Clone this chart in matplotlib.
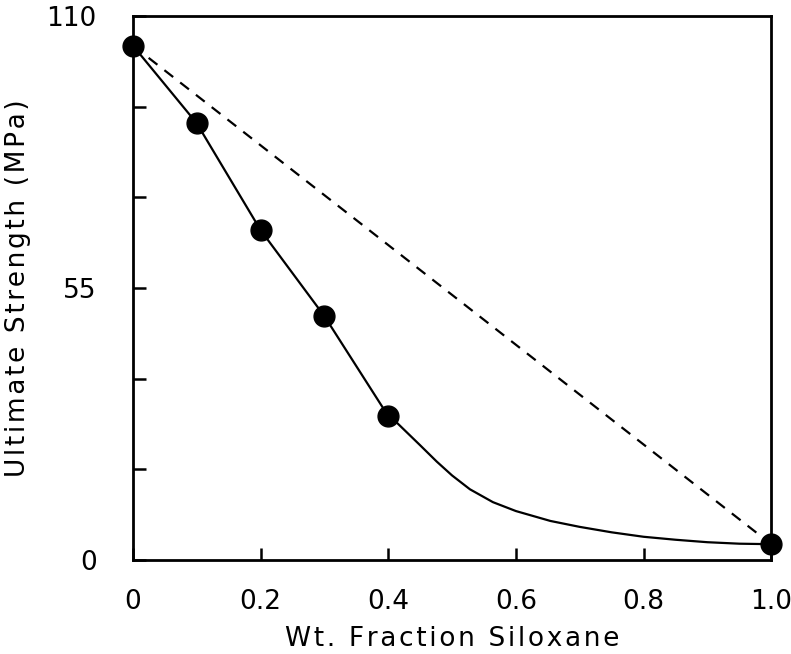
import matplotlib.pyplot as plt

# measured points
frac = [0.0, 0.1, 0.2, 0.3, 0.4, 1.0]
strength = [104.0, 88.3, 66.7, 49.3, 29.1, 3.2]

# solid fitted curve
curve_x = [0.0, 0.1, 0.2, 0.3, 0.4, 0.414, 0.45, 0.476, 0.5, 0.528, 0.564, 0.6, 0.654,
           0.7, 0.75, 0.8, 0.85, 0.9, 0.95, 1.0]
curve_y = [104.0, 88.3, 66.7, 49.3, 29.1, 27.7, 23.2, 19.9, 17.1, 14.3, 11.7, 9.9, 7.9,
           6.7, 5.6, 4.7, 4.1, 3.6, 3.3, 3.2]

# rule of mixtures line
mix_x = [0.0, 1.0]
mix_y = [104.0, 3.2]

xticks = [0, 0.2, 0.4, 0.6, 0.8, 1.0]
xlabels = ['0', '0.2', '0.4', '0.6', '0.8', '1.0']
yticks = [0, 110 / 6, 110 / 3, 55, 220 / 3, 550 / 6, 110]
ylabels = ['0', '', '', '55', '', '', '110']


def spaced(s):
    # wide letter spacing like the original typeset labels
    return '\u200a'.join(s)


fig = plt.figure(figsize=(7.91, 6.54), dpi=100)
ax = fig.add_axes([0.168, 0.1437, 0.807, 0.832])

ax.plot(curve_x, curve_y, 'k-', lw=1.6)
ax.plot(mix_x, mix_y, 'k--', lw=1.6, dashes=(5, 4))
ax.plot(frac, strength, 'ko', ms=15, clip_on=False, zorder=5)

ax.set_xlim(0, 1.0)
ax.set_ylim(0, 110)
ax.set_xticks(xticks)
ax.set_xticklabels(xlabels)
ax.set_yticks(yticks)
ax.set_yticklabels(ylabels)
ax.tick_params(direction='in', length=9, width=1.8, labelsize=19)
ax.tick_params(axis='x', pad=21)
ax.tick_params(axis='y', pad=26)
for s in ax.spines.values():
    s.set_linewidth(2)

ax.set_xlabel(spaced('Wt. Fraction Siloxane'), fontsize=19, labelpad=8)
ax.set_ylabel(spaced('Ultimate Strength (MPa)'), fontsize=19, labelpad=11)

fig.savefig('out.png', dpi=100)
